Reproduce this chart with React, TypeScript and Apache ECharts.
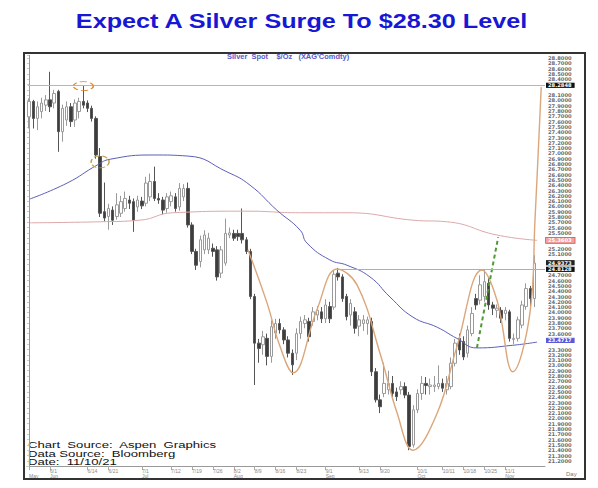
import React, { useEffect, useRef } from 'react';
import * as echarts from 'echarts';

// trading-day categories (weekdays) from 5/25/2021 to 11/12/2021
const categories: string[] = (() => {
  const out: string[] = [];
  const d = new Date(2021, 4, 25);
  while (out.length < 124) {
    const wd = d.getDay();
    if (wd !== 0 && wd !== 6) out.push(`${d.getMonth() + 1}/${d.getDate()}`);
    d.setDate(d.getDate() + 1);
  }
  return out;
})();

const dateTicks = ['6/1', '6/14', '6/21', '7/1', '7/12', '7/19', '7/26', '8/2', '8/9', '8/16', '8/23', '9/1', '9/13', '9/20', '10/1', '10/11', '10/18', '10/25', '11/1'];
const monthStarts = ['5/25', '6/1', '7/1', '8/2', '9/1', '10/1', '11/1'];
const monthNames = ['May', 'Jun', 'Jul', 'Aug', 'Sep', 'Oct', 'Nov'];

// [open, close, low, high]
const candlesMayAug = [
  [27.69, 27.98, 27.47, 28.04], [27.98, 27.66, 27.47, 28.01], [27.66, 27.88, 27.44, 27.98], [27.79, 27.95, 27.66, 28.05],
  [27.91, 28.01, 27.80, 28.10], [28.01, 27.88, 27.78, 28.54], [27.95, 28.13, 27.85, 28.20], [28.17, 27.41, 27.03, 28.20],
  [27.41, 27.85, 27.22, 27.92], [27.63, 27.88, 27.52, 27.98], [27.88, 27.60, 27.50, 27.95], [27.63, 27.95, 27.50, 28.02],
  [27.79, 27.98, 27.66, 28.05], [27.98, 27.91, 27.85, 28.28], [27.95, 27.85, 27.78, 28.00], [27.85, 27.66, 27.60, 27.90],
  [27.66, 26.97, 26.90, 27.70], [26.94, 25.87, 25.80, 27.10], [25.90, 25.78, 25.72, 26.45], [25.81, 25.96, 25.56, 26.05],
  [25.93, 25.74, 25.65, 26.00], [25.81, 26.03, 25.75, 26.25], [25.87, 26.09, 25.80, 26.20], [25.96, 26.15, 25.90, 26.28],
  [26.12, 26.06, 25.95, 26.20], [26.09, 25.74, 25.52, 26.15], [25.99, 26.12, 25.90, 26.20], [26.10, 26.01, 25.95, 26.18],
  [26.06, 26.44, 26.00, 26.56], [26.18, 26.47, 26.10, 26.62], [26.47, 26.15, 26.10, 26.75], [26.15, 26.12, 26.05, 26.25],
  [26.12, 25.93, 25.85, 26.18], [25.96, 26.18, 25.88, 26.25], [26.09, 26.20, 26.00, 26.28], [26.18, 25.96, 25.90, 26.25],
  [25.99, 26.34, 25.92, 26.44], [26.18, 26.34, 26.10, 26.42], [26.34, 25.65, 25.60, 26.45], [25.65, 25.15, 25.10, 25.70],
  [25.15, 24.89, 24.80, 25.20], [24.96, 25.37, 24.85, 25.45], [25.18, 25.46, 25.10, 25.55], [25.18, 25.40, 25.10, 25.50],
  [25.21, 25.15, 25.05, 25.30], [25.18, 24.67, 24.60, 25.25], [24.74, 25.18, 24.65, 25.25], [24.93, 25.49, 24.88, 25.77],
  [25.46, 25.50, 25.40, 25.60], [25.49, 25.40, 25.35, 25.56], [25.49, 25.43, 25.35, 25.56], [25.49, 25.37, 25.30, 25.96],
  [25.37, 25.15, 25.10, 25.42], [25.15, 24.30, 24.25, 25.20], [24.30, 23.42, 22.63, 24.35], [23.42, 23.32, 23.05, 23.50],
  [23.39, 23.54, 23.20, 23.65], [23.51, 23.17, 23.00, 23.60], [23.17, 23.73, 23.05, 23.85], [23.61, 23.79, 23.50, 23.88],
];
const candlesAugNov = [
  [23.79, 23.67, 23.60, 23.88], [23.67, 23.48, 23.40, 23.72], [23.48, 23.23, 23.15, 23.55], [23.23, 23.01, 22.82, 23.30],
  [23.23, 23.60, 23.10, 23.70], [23.60, 23.83, 23.50, 23.92], [23.79, 23.86, 23.70, 23.95], [23.83, 23.54, 23.45, 23.90],
  [23.83, 24.01, 23.75, 24.10], [23.95, 24.04, 23.85, 24.12], [24.01, 23.88, 23.80, 24.10], [23.88, 24.14, 23.80, 24.25],
  [24.11, 23.88, 23.80, 24.20], [24.10, 24.72, 24.05, 24.80], [24.74, 24.67, 24.60, 24.84], [24.67, 24.26, 24.20, 24.72],
  [24.30, 23.92, 23.85, 24.35], [23.95, 24.17, 23.75, 24.25], [24.01, 23.70, 23.60, 24.10], [23.74, 23.86, 23.55, 23.95],
  [23.79, 23.86, 23.65, 23.95], [23.79, 23.86, 23.58, 23.92], [23.83, 22.88, 22.80, 23.90], [22.88, 22.35, 22.30, 22.95],
  [22.35, 22.22, 22.10, 22.45], [22.47, 22.66, 22.40, 23.05], [22.54, 22.66, 22.45, 22.90], [22.66, 22.47, 22.40, 22.80],
  [22.50, 22.41, 22.33, 22.58], [22.54, 22.60, 22.45, 22.70], [22.60, 22.44, 22.38, 22.68], [22.44, 21.47, 21.40, 22.50],
  [21.50, 22.16, 21.45, 22.25], [22.16, 22.47, 22.10, 22.55], [22.47, 22.66, 22.35, 22.80], [22.66, 22.62, 22.45, 22.78],
  [22.60, 22.63, 22.45, 22.75], [22.60, 22.63, 22.50, 22.80], [22.60, 22.66, 22.55, 23.00], [22.66, 22.57, 22.50, 22.75],
  [22.54, 22.66, 22.45, 22.80], [22.60, 23.04, 22.55, 23.15], [23.04, 23.42, 22.98, 23.50], [23.51, 23.29, 23.20, 23.60],
  [23.45, 23.16, 23.10, 23.55], [23.23, 23.67, 23.15, 23.75], [23.60, 23.98, 23.55, 24.10], [24.26, 24.14, 24.05, 24.35],
  [24.23, 24.52, 24.15, 24.70], [24.30, 24.58, 24.20, 24.80], [24.55, 24.14, 24.05, 24.65], [24.14, 24.08, 23.95, 24.20],
  [24.04, 24.08, 23.90, 24.15], [24.04, 23.89, 23.80, 24.10], [23.98, 24.04, 23.85, 24.10], [24.01, 23.51, 23.45, 24.05],
  [23.49, 23.51, 23.40, 23.60], [23.51, 23.86, 23.45, 23.92], [23.76, 24.14, 23.70, 24.22], [24.11, 24.45, 24.05, 24.55],
  [24.45, 24.26, 24.10, 24.50], [24.26, 24.93, 24.10, 25.08],
];

// moving averages: [day index, price]
const blueMA = [
  [0.2, 26.14], [9.1, 26.44], [16.3, 26.78], [19.4, 26.89], [29.7, 26.97], [38.0, 26.95], [47.4, 26.65],
  [52.9, 26.40], [59.3, 25.93], [64.9, 25.55], [66.5, 25.31], [72.0, 24.99], [76.1, 24.89], [81.6, 24.67],
  [86.4, 24.29], [91.9, 23.91], [97.7, 23.72], [102.4, 23.51], [107.2, 23.33], [115.8, 23.38], [121.6, 23.44],
];
const redMA = [
  [0.2, 25.69], [17.0, 25.71], [26.5, 25.74], [34.4, 25.88], [52.2, 25.91], [64.9, 25.88], [76.1, 25.88],
  [91.9, 25.74], [100.0, 25.71], [112.0, 25.46], [121.6, 25.36],
];
// hand-drawn wave projection
const waveCurve = [
  [52.4, 25.18], [56.95, 24.18], [60.1, 23.35], [63.2, 22.86], [68.9, 24.05], [73.7, 24.82], [78.5, 24.52],
  [84.0, 23.23], [88.1, 22.10], [91.9, 21.40], [97.7, 22.10], [102.4, 23.35], [108.4, 24.80], [112.0, 24.23],
  [115.8, 22.88], [119.9, 23.99], [121.1, 25.74], [122.6, 28.25],
];
const greenDash = [[107.2, 23.33], [112.3, 25.42]];

const targetLevel = 28.2848;
const resistanceLevel = 24.8128;
const resistanceStart = 73.7;
const lastClose = 24.9373;
const redMALast = 25.3603;
const blueMALast = 23.4717;
const tagLevels = [targetLevel, resistanceLevel, lastClose, redMALast, blueMALast];

const candles = [...candlesMayAug, ...candlesAugNov];

function tickShown(_i: number, v: string) {
  return dateTicks.includes(v) || monthStarts.includes(v);
}

function labelFmt(v: string) {
  const d = dateTicks.includes(v) ? v : '';
  const mi = monthStarts.indexOf(v);
  const m = mi >= 0 ? monthNames[mi] : '';
  return d + '\n' + m;
}

function yFmt(v: number) {
  const k = Math.round(v * 10);
  if (Math.abs(v * 10 - k) > 1e-6 || k < 212 || k > 288) return '';
  const val = k / 10;
  if (tagLevels.some((t) => Math.abs(t - val) < 0.099)) return '';
  return val.toFixed(4);
}

const AXIS_FONT = 'DejaVu Sans';

const tagLabel = (text: string, bg: string, fg: string, border?: string) => ({
  show: true,
  position: 'end',
  distance: 1,
  formatter: text,
  fontSize: 5.2,
  lineHeight: 5.2,
  fontWeight: 'bold',
  fontFamily: AXIS_FONT,
  color: fg,
  backgroundColor: bg,
  borderColor: border || bg,
  borderWidth: border ? 0.8 : 0,
  padding: [0, 3, 0, 2],
});

const hiddenLine = { color: 'rgba(0,0,0,0)', width: 0 };

export default function App() {
  const ref = useRef<HTMLDivElement>(null);
  useEffect(() => {
    const chart = echarts.init(ref.current!, null, { renderer: 'svg' });
    const yCommon = { type: 'value', min: 21.1, max: 28.85, interval: 0.1, scale: true };
    chart.setOption({
      animation: false,
      backgroundColor: '#ffffff',
      grid: { left: 27, right: 53, top: 55.35, bottom: 21.9, containLabel: false },
      xAxis: [
        {
          type: 'category',
          data: categories,
          boundaryGap: true,
          axisLine: { show: true, lineStyle: { color: '#999', width: 1 } },
          axisTick: { show: true, interval: tickShown, length: 4, alignWithLabel: true, lineStyle: { color: '#aaa' } },
          axisLabel: {
            show: true, interval: tickShown, formatter: labelFmt, fontSize: 5, lineHeight: 5,
            color: '#888', align: 'left', margin: 2, fontFamily: 'Arial',
          },
          splitLine: { show: false },
        },
        { type: 'value', min: -0.5, max: 123.5, show: false },
      ],
      yAxis: [
        {
          ...yCommon,
          position: 'right',
          axisLine: { show: true, lineStyle: { color: '#999' } },
          axisTick: { show: false },
          axisLabel: { formatter: yFmt, fontSize: 5.2, lineHeight: 5.2, fontWeight: 'bold', color: '#6a6a6a', margin: 3, fontFamily: AXIS_FONT },
          splitLine: { show: false },
        },
        {
          ...yCommon,
          position: 'left',
          axisLine: { show: false },
          axisTick: { show: true, inside: true, length: 2, lineStyle: { color: '#ccc' } },
          axisLabel: { show: false },
          splitLine: { show: false },
        },
      ],
      series: [
        {
          type: 'candlestick',
          xAxisIndex: 0,
          yAxisIndex: 0,
          data: candles,
          barWidth: 3,
          itemStyle: { color: '#ffffff', color0: '#3d3d3d', borderColor: '#9a9a9a', borderColor0: '#555555', borderWidth: 1 },
          markPoint: {
            silent: true,
            label: { show: false },
            data: [
              {
                coord: [13, 28.27], symbol: 'circle', symbolSize: [20, 9],
                itemStyle: { color: 'rgba(0,0,0,0)', borderColor: '#d88a3a', borderWidth: 1.2, borderType: 'dashed' },
              },
              {
                coord: [17, 26.84], symbol: 'circle', symbolSize: [18, 12],
                itemStyle: { color: 'rgba(0,0,0,0)', borderColor: '#c0a050', borderWidth: 1.2, borderType: 'dashed' },
              },
            ],
          },
        },
        {
          type: 'line', xAxisIndex: 1, yAxisIndex: 0, data: redMA, smooth: true, symbol: 'none',
          lineStyle: { color: '#dba9a9', width: 1 },
          markLine: {
            silent: true, symbol: 'none',
            data: [[
              { coord: [115, redMALast], lineStyle: hiddenLine, label: tagLabel(redMALast.toFixed(4), '#f2a0a0', '#ffffff', '#d85050') },
              { coord: [123.5, redMALast] },
            ]],
          },
        },
        {
          type: 'line', xAxisIndex: 1, yAxisIndex: 0, data: blueMA, smooth: true, symbol: 'none',
          lineStyle: { color: '#5b5fb8', width: 1 },
          markLine: {
            silent: true, symbol: 'none',
            data: [[
              { coord: [115, blueMALast], lineStyle: hiddenLine, label: tagLabel(blueMALast.toFixed(4), '#5a5ad8', '#ffffff') },
              { coord: [123.5, blueMALast] },
            ]],
          },
        },
        {
          type: 'line', xAxisIndex: 1, yAxisIndex: 0, data: waveCurve, smooth: 0.4, symbol: 'none',
          lineStyle: { color: '#dba679', width: 1.4 },
          markLine: {
            silent: true, symbol: 'none',
            data: [
              [
                { coord: [-0.3, targetLevel], lineStyle: { color: '#c4b0b0', width: 1, type: 'solid' }, label: tagLabel(targetLevel.toFixed(4), '#111111', '#ffffff') },
                { coord: [123.5, targetLevel] },
              ],
              [
                { coord: [120, lastClose], lineStyle: hiddenLine, label: tagLabel(lastClose.toFixed(4), '#222222', '#ffffff') },
                { coord: [123.5, lastClose] },
              ],
              [
                { coord: [resistanceStart, resistanceLevel], lineStyle: { color: '#aab0b8', width: 1, type: 'solid' }, label: tagLabel(resistanceLevel.toFixed(4), '#111111', '#ffffff') },
                { coord: [123.5, resistanceLevel] },
              ],
            ],
          },
        },
        {
          type: 'line', xAxisIndex: 1, yAxisIndex: 0, data: greenDash, symbol: 'none',
          lineStyle: { color: '#4f9a35', width: 2, type: [4, 3] },
        },
      ],
      graphic: [
        {
          type: 'text', x: 301.5, y: 20.5, scaleX: 1.2, silent: true,
          style: {
            text: 'Expect A Silver Surge To $28.30 Level', font: 'bold 21px Arial', fill: '#1717d4',
            align: 'center', verticalAlign: 'middle',
          },
        },
        {
          type: 'rect', silent: true, z: 10,
          shape: { x: 24, y: 53, width: 561, height: 426 },
          style: { fill: 'none', stroke: '#333', lineWidth: 2 },
        },
        {
          type: 'text', x: 227, y: 57, scaleX: 1.15, silent: true,
          style: { text: "Silver  Spot    $/Oz   (XAG'Comdty)", font: 'bold 6.5px Arial', fill: '#5a5ac6', verticalAlign: 'middle' },
        },
        {
          type: 'text', x: 28, y: 445.3, scaleX: 1.6, silent: true,
          style: { text: 'Chart  Source:  Aspen  Graphics', font: '8.2px Arial', fill: '#111', verticalAlign: 'middle' },
        },
        {
          type: 'text', x: 28, y: 453.6, scaleX: 1.6, silent: true,
          style: { text: 'Data Source:  Bloomberg', font: '8.2px Arial', fill: '#111', verticalAlign: 'middle' },
        },
        {
          type: 'text', x: 28, y: 461.9, scaleX: 1.6, silent: true,
          style: { text: 'Date:  11/10/21', font: '8.2px Arial', fill: '#111', verticalAlign: 'middle' },
        },
        {
          type: 'text', x: 566, y: 474, silent: true,
          style: { text: 'Day', font: '6px Arial', fill: '#777', verticalAlign: 'middle' },
        },
      ],
    });
    return () => chart.dispose();
  }, []);
  return (
    <div
      ref={ref}
      style={{ position: 'fixed', left: 0, top: 0, width: 598, height: 488, background: '#fff' }}
    />
  );
}
